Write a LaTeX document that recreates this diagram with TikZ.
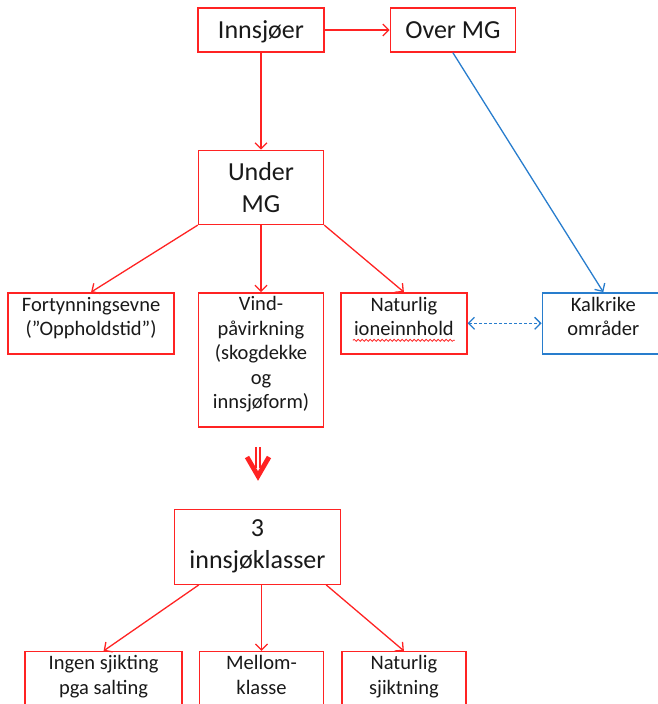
\documentclass[tikz,border=0pt]{standalone}
\usepackage{fontspec}
\setmainfont{Carlito}
\usepackage{tikz}
\usetikzlibrary{arrows.meta, positioning, decorations.pathmorphing}
\definecolor{boxred}{RGB}{255,35,35}
\definecolor{boxblue}{RGB}{40,125,205}
\definecolor{txt}{RGB}{25,25,25}
\tikzset{
  rbox/.style  = {draw=boxred, line width=1.4pt, align=center, text=txt,
                  inner sep=0pt, fill=white},
  bbox/.style  = {rbox, draw=boxblue},
  big/.style   = {font=\fontsize{26}{32}\selectfont},
  small/.style = {font=\fontsize{20.5}{24.5}\selectfont, text depth=14pt},
  rl/.style    = {draw=boxred, line width=1.3pt,
                  -{Straight Barb[length=6pt,width=12pt]}},
  bl/.style    = {draw=boxblue, line width=1.3pt,
                  -{Straight Barb[length=6pt,width=12pt]}},
  dl/.style    = {draw=boxblue, line width=1.3pt, dash pattern=on 3pt off 2pt,
                  {Straight Barb[length=6pt,width=12pt]}-{Straight Barb[length=6pt,width=12pt]}},
  stem/.style  = {draw=boxred, line width=2pt, double=white, double distance=1.1pt},
  head/.style  = {draw=boxred, line width=4.8pt, miter limit=10},
  squig/.style = {draw=boxred, line width=0.8pt, decorate,
                  decoration={snake, amplitude=1pt, segment length=4pt}},
}
\begin{document}
\begin{tikzpicture}[x=1pt, y=1pt]
  \useasboundingbox (0,0) rectangle (658,-704);
  \clip (0,0) rectangle (658,-704);

  % top part
  \node[rbox, big, minimum width=126pt, minimum height=44pt, text depth=1pt] (inn) at (261,-30) {Innsjøer};
  \node[rbox, big, minimum width=125pt, minimum height=44pt, right=65pt of inn] (over) {Over MG};
  \node[rbox, big, minimum width=125pt, minimum height=74pt, below=97pt of inn] (under) {Under\\MG};

  % factors
  \node[rbox, small, minimum width=125pt, minimum height=134pt, below=67pt of under] (vind)
       {Vind-\\påvirkning\\(skogdekke\\og\\innsjøform)};
  \node[rbox, small, minimum width=166pt, minimum height=61pt,
        left=23pt of vind.north west, anchor=north east] (fort)
       {Fortynningsevne\\(”Oppholdstid”)};
  \node[rbox, small, minimum width=126pt, minimum height=61pt,
        right=16pt of vind.north east, anchor=north west] (nat)
       {Naturlig\\ioneinnhold};
  \node[bbox, small, minimum width=122pt, minimum height=61pt, right=74pt of nat] (kalk)
       {Kalkrike\\områder};

  % classes
  \node[rbox, big, minimum width=166pt, minimum height=75pt,
        below=81pt of vind, xshift=-3.5pt] (klass) {3\\innsjøklasser};
  \node[rbox, small, minimum width=124pt, minimum height=61pt,
        below=66pt of klass, xshift=4pt] (mellom) {Mellom-\\klasse};
  \node[rbox, small, minimum width=157pt, minimum height=61pt, left=16pt of mellom] (ingen)
       {Ingen sjikting\\pga salting};
  \node[rbox, small, minimum width=124pt, minimum height=61pt, right=17pt of mellom] (natsj)
       {Naturlig\\sjiktning};

  \draw[rl] (inn) -- (over);
  \draw[rl] (inn) -- (under);
  \draw[rl] (under.south west) -- (fort.north);
  \draw[rl] (under) -- (vind);
  \draw[rl] (under.south east) -- (nat.north);
  \draw[bl] (over.south) -- (kalk.north);
  \draw[dl] (nat) -- (kalk);
  \draw[squig] ([shift={(-51pt,-17pt)}]nat.center) -- ([shift={(51pt,-17pt)}]nat.center);

  % big arrow down
  \coordinate (dtop) at (258,-447);
  \coordinate (dtip) at (258,-476);
  \draw[stem] (dtop) -- ([yshift=8pt]dtip);
  \draw[head] ([shift={(-11pt,19pt)}]dtip) -- (dtip) -- ([shift={(11pt,19pt)}]dtip);

  \draw[rl] ([xshift=25pt]klass.south west) -- (ingen.north);
  \draw[rl] (klass.south -| mellom.north) -- (mellom.north);
  \draw[rl] ([xshift=-15pt]klass.south east) -- (natsj.north);
\end{tikzpicture}
\end{document}
